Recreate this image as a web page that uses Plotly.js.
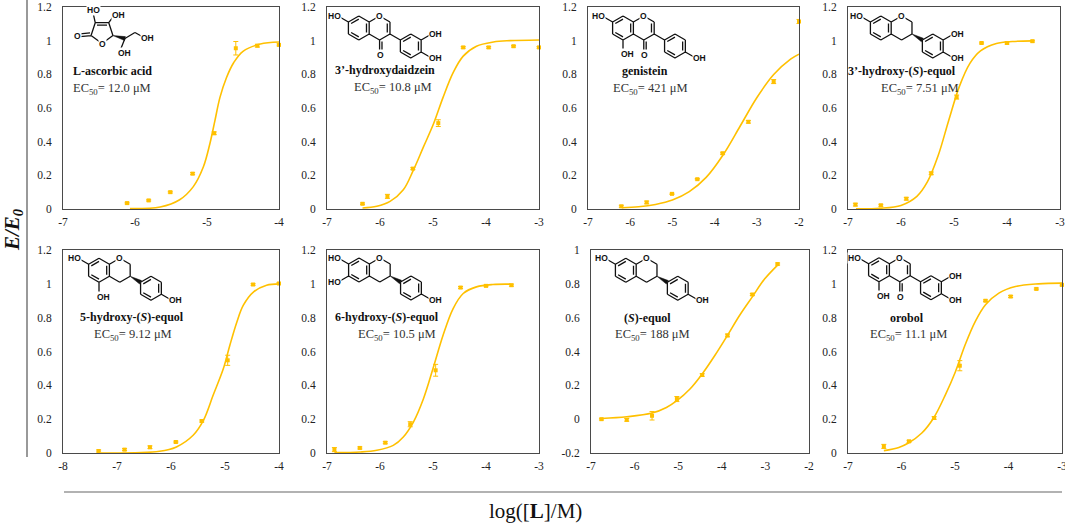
<!DOCTYPE html>
<html>
<head>
<meta charset="utf-8">
<script src="https://cdn.plot.ly/plotly-3.0.1.min.js"></script>
<style>
  html,body{margin:0;padding:0;background:#fff}
  #chart{width:1065px;height:528px}
</style>
</head>
<body>
<div id="chart"></div>
<script>
(function(){
  // ---------- Data (log[L], E/E0) ----------
  // L-ascorbic acid
  const ascX  = [-6.11,-5.81,-5.51,-5.20,-4.90,-4.60,-4.30,-4.00];
  const ascY  = [0.035,0.051,0.10,0.21,0.45,0.955,0.97,0.975];
  const ascE  = [0.005,0.004,0.005,0.006,0.008,0.04,0.008,0.006];
  const ascFx = [-6.07,-5.65,-5.38,-5.19,-5.05,-4.96,-4.89,-4.82,-4.73,-4.63,-4.50,-4.26,-4.00];
  const ascFy = [0.002,0.012,0.055,0.133,0.251,0.388,0.525,0.663,0.78,0.869,0.937,0.98,0.992];

  // 3'-hydroxydaidzein
  const hdzX  = [-6.33,-5.86,-5.38,-4.90,-4.43,-3.95,-3.48,-3.00];
  const hdzY  = [0.031,0.075,0.24,0.51,0.96,0.96,0.967,0.96];
  const hdzE  = [0.005,0.012,0.006,0.02,0.005,0.005,0.005,0.005];
  const hdzFx = [-6.33,-6.06,-5.81,-5.56,-5.37,-5.18,-4.99,-4.81,-4.62,-4.43,-4.18,-3.86,-3.55,-3.00];
  const hdzFy = [0.006,0.016,0.045,0.114,0.231,0.369,0.506,0.663,0.81,0.908,0.967,0.992,1.0,1.004];

  // genistein
  const genX  = [-6.21,-5.61,-5.01,-4.41,-3.81,-3.20,-2.60,-2.00];
  const genY  = [0.016,0.039,0.09,0.177,0.331,0.518,0.757,1.114];
  const genE  = [0.006,0.008,0.004,0.004,0.006,0.008,0.012,0.012];
  const genFx = [-6.2,-5.8,-5.4,-5.0,-4.6,-4.2,-3.8,-3.4,-3.0,-2.6,-2.2,-2.0];
  const genFy = [0.007,0.013,0.027,0.053,0.103,0.188,0.321,0.49,0.661,0.799,0.89,0.92];

  // 3'-hydroxy-(S)-equol
  const h3eX  = [-6.86,-6.38,-5.90,-5.43,-4.95,-4.48,-4.00,-3.52];
  const h3eY  = [0.026,0.022,0.061,0.212,0.665,0.986,0.986,0.997];
  const h3eE  = [0.008,0.006,0.008,0.008,0.012,0.005,0.006,0.005];
  const h3eFx = [-6.85,-6.4,-6.0,-5.7,-5.5,-5.3,-5.1,-4.9,-4.7,-4.5,-4.2,-3.9,-3.52];
  const h3eFy = [0.001,0.004,0.021,0.075,0.162,0.316,0.526,0.727,0.865,0.939,0.983,0.995,0.999];

  // 5-hydroxy-(S)-equol
  const h5eX  = [-7.34,-6.86,-6.39,-5.91,-5.43,-4.95,-4.48,-4.00];
  const h5eY  = [0.012,0.02,0.034,0.065,0.189,0.548,0.996,1.002];
  const h5eE  = [0.006,0.006,0.008,0.005,0.006,0.03,0.005,0.006];
  const h5eFx = [-7.30,-6.21,-5.90,-5.59,-5.40,-5.22,-5.03,-4.91,-4.78,-4.66,-4.47,-4.23,-4.00];
  const h5eFy = [0.0,0.01,0.036,0.105,0.193,0.341,0.499,0.637,0.775,0.874,0.953,0.992,1.0];

  // 6-hydroxy-(S)-equol
  const h6eX  = [-6.86,-6.38,-5.90,-5.43,-4.95,-4.48,-4.00,-3.52];
  const h6eY  = [0.02,0.03,0.061,0.17,0.489,0.978,0.988,0.992];
  const h6eE  = [0.012,0.006,0.006,0.015,0.035,0.006,0.005,0.006];
  const h6eFx = [-6.86,-6.37,-6.06,-5.75,-5.56,-5.37,-5.18,-5.00,-4.81,-4.62,-4.43,-4.18,-3.87,-3.54];
  const h6eFy = [0.002,0.006,0.016,0.045,0.095,0.183,0.321,0.499,0.696,0.854,0.943,0.982,0.996,0.998];

  // (S)-equol
  const eqX  = [-6.76,-6.18,-5.60,-5.03,-4.45,-3.87,-3.30,-2.72];
  const eqY  = [0.0,-0.004,0.02,0.119,0.261,0.495,0.737,0.917];
  const eqE  = [0.005,0.008,0.025,0.015,0.008,0.008,0.006,0.006];
  const eqFx = [-6.76,-6.18,-5.60,-5.27,-5.03,-4.73,-4.45,-4.16,-3.87,-3.59,-3.30,-3.02,-2.72];
  const eqFy = [0.004,0.014,0.036,0.069,0.109,0.178,0.267,0.376,0.495,0.614,0.723,0.828,0.911];

  // orobol
  const orbX  = [-6.33,-5.86,-5.39,-4.91,-4.43,-3.96,-3.48,-3.00];
  const orbY  = [0.039,0.069,0.207,0.516,0.9,0.925,0.97,0.994];
  const orbE  = [0.012,0.006,0.008,0.03,0.005,0.006,0.005,0.006];
  const orbFx = [-6.33,-6.05,-5.87,-5.62,-5.40,-5.18,-4.99,-4.81,-4.62,-4.43,-4.18,-3.87,-3.44,-3.00];
  const orbFy = [0.014,0.033,0.059,0.118,0.207,0.344,0.482,0.64,0.778,0.876,0.945,0.984,1.0,1.004];

  // tick labels
  const xt74 = [-7,-6,-5,-4];
  const xt73 = [-7,-6,-5,-4,-3];
  const xt72 = [-7,-6,-5,-4,-3,-2];
  const xt84 = [-8,-7,-6,-5,-4];
  const ytA  = [0,0.2,0.4,0.6,0.8,1,1.2];
  const ytB  = [-0.2,0,0.2,0.4,0.6,0.8,1];

  // --------- Utils ---------
  const W = 1065, H = 528, R = 12, h = 0.866*R;
  const GOLD = '#FFC000';
  const SERIF = 'Liberation Serif, Times New Roman, serif';
  const px = x => x/W, py = y => 1 - y/H;
  const path = pts => pts.map((p,i)=>(i?'L':'M')+px(p[0]).toFixed(5)+','+py(p[1]).toFixed(5)).join(' ');

  // --------- chemical structures (drawn as shapes) ---------
  function hexV(cx, cy, r){
    return [0,1,2,3,4,5].map(i=>{ const a=(-90+60*i)*Math.PI/180; return [cx+r*Math.cos(a), cy+r*Math.sin(a)]; });
  }
  const ALL = [[0,1],[1,2],[2,3],[3,4],[4,5],[5,0]];
  function ring(m, V, c, edges, inner){
    edges.forEach(([a,b])=>m.lines.push([V[a],V[b]]));
    (inner||[]).forEach(([a,b])=>{
      const k=0.74, s=t=>[c[0]+(t[0]-c[0])*k, c[1]+(t[1]-c[1])*k];
      m.lines.push([s(V[a]), s(V[b])]);
    });
  }
  function lab(m, x, y, t, xa, ya){ m.labels.push({x, y, t, xa, ya}); }
  function sub(m, p, d, t, dir){
    const e=[p[0]+d[0], p[1]+d[1]];
    m.lines.push([p,e]);
    if (dir==='down') lab(m, e[0]-3.5, e[1]-2, t, 'left', 'top');
    else if (dir==='up') lab(m, e[0], e[1]+2, t, 'center', 'bottom');
    else if (t==='HO') lab(m, e[0]+3.5, e[1], t, 'right', 'middle');
    else lab(m, e[0]-3.5, e[1], t, 'left', 'middle');
    return e;
  }
  function wedge(p, q){
    const dx=q[0]-p[0], dy=q[1]-p[1], L=Math.hypot(dx,dy), n=[-dy/L*2, dx/L*2];
    return [p, [q[0]+n[0], q[1]+n[1]], [q[0]-n[0], q[1]-n[1]]];
  }

  // isoflavone / isoflavan skeleton
  function iso(ax, ay, o){
    const m={lines:[], wedges:[], labels:[]}, r=R;
    const A=hexV(ax,ay,r), cc=[ax+2*h, ay], C=hexV(cc[0],cc[1],r);
    ring(m, A, [ax,ay], ALL, [[1,2],[3,4],[5,0]]);
    ring(m, C, cc, [[5,0],[0,1],[1,2],[2,3],[3,4]], o.one ? [[1,2]] : []);
    lab(m, C[0][0], C[0][1], 'O', 'center', 'middle');
    if (o.one){
      const e=[C[3][0], C[3][1]+0.85*r];
      m.lines.push([C[3], e], [[C[3][0]+2.4, C[3][1]+1.5], [e[0]+2.4, e[1]]]);
      lab(m, e[0]+1, e[1]-1, 'O', 'center', 'top');
    }
    const b1=[C[2][0]+h, C[2][1]+r/2];
    if (o.one) m.lines.push([C[2], b1]); else m.wedges.push(wedge(C[2], b1));
    const bc=[b1[0]+h, b1[1]+r/2], B=hexV(bc[0],bc[1],r);
    ring(m, B, bc, ALL, [[5,0],[1,2],[3,4]]);
    if (o.oh7) sub(m, A[5], [-h,-r/2], 'HO');
    if (o.oh6) sub(m, A[4], [-h, r/2], 'HO');
    if (o.oh5) sub(m, A[3], [0, r*0.85], 'OH', 'down');
    if (o.oh3p) sub(m, B[1], [h,-r/2], 'OH');
    sub(m, B[2], [h, r/2], 'OH');
    return m;
  }

  // L-ascorbic acid (lactone ring)
  function ascorbic(cx, cy){
    const m={lines:[], wedges:[], labels:[]}, rr=11.5;
    const V=[90,18,-54,-126,162].map(a=>[cx+rr*Math.cos(a*Math.PI/180), cy+rr*Math.sin(a*Math.PI/180)]);
    ring(m, V, [cx,cy], [[0,1],[1,2],[2,3],[3,4],[4,0]], [[2,3]]);
    lab(m, V[0][0], V[0][1], 'O', 'center', 'middle');
    const c1=V[4], eo=[c1[0]-11, c1[1]+1];
    m.lines.push([c1, eo], [[c1[0]-1, c1[1]-2.6], [eo[0], eo[1]-2.6]]);
    lab(m, eo[0]+2, eo[1]-1, 'O', 'right', 'middle');
    sub(m, V[3], [-2,-9], 'HO', 'up');
    sub(m, V[2], [6,-8], 'OH');
    const c5=[V[1][0]+12, V[1][1]+3];
    m.wedges.push(wedge(V[1], c5));
    sub(m, c5, [-4,10], 'OH', 'down');
    const c6=[c5[0]+10, c5[1]-6];
    m.lines.push([c5, c6]);
    sub(m, c6, [9,5], 'OH');
    return m;
  }

  // ---------- panels ----------
  const T = 7; // top edge of the upper row
  const panels = [
    {nm:'<b>L-ascorbic acid</b>', ec:'12.0', x:ascX, y:ascY, e:ascE, fx:ascFx, fy:ascFy,
     xr:[-7,-4], xt:xt74, yr:[0,1.2], yt:ytA, box:[63,279,T,209], nmp:[112,71], ecp:[112,89], mol:ascorbic(102,32)},
    {nm:'<b>3’-hydroxydaidzein</b>', ec:'10.8', x:hdzX, y:hdzY, e:hdzE, fx:hdzFx, fy:hdzFy,
     xr:[-7,-3], xt:xt73, yr:[0,1.2], yt:ytA, box:[327,539,T,209], nmp:[385,70], ecp:[393,88], mol:iso(358.8,28,{one:true,oh7:true,oh3p:true})},
    {nm:'<b>genistein</b>', ec:'421', x:genX, y:genY, e:genE, fx:genFx, fy:genFy,
     xr:[-7,-2], xt:xt72, yr:[0,1.2], yt:ytA, box:[588,799,T,209], nmp:[645,71], ecp:[650,89], mol:iso(623,28,{one:true,oh7:true,oh5:true})},
    {nm:'<b>3’-hydroxy-(<i>S</i>)-equol</b>', ec:'7.51', x:h3eX, y:h3eY, e:h3eE, fx:h3eFx, fy:h3eFy,
     xr:[-7,-3], xt:xt73, yr:[0,1.2], yt:ytA, box:[848,1060,T,209], nmp:[902,71], ecp:[920,89], mol:iso(880.8,28,{oh7:true,oh3p:true})},
    {nm:'<b>5-hydroxy-(<i>S</i>)-equol</b>', ec:'9.12', x:h5eX, y:h5eY, e:h5eE, fx:h5eFx, fy:h5eFy,
     xr:[-8,-4], xt:xt84, yr:[0,1.2], yt:ytA, box:[63,279,250,453], nmp:[132,317], ecp:[133,335], mol:iso(99,270.3,{oh7:true,oh5:true})},
    {nm:'<b>6-hydroxy-(<i>S</i>)-equol</b>', ec:'10.5', x:h6eX, y:h6eY, e:h6eE, fx:h6eFx, fy:h6eFy,
     xr:[-7,-3], xt:xt73, yr:[0,1.2], yt:ytA, box:[327,539,250,453], nmp:[387,317], ecp:[397,335], mol:iso(359,270,{oh7:true,oh6:true})},
    {nm:'<b>(<i>S</i>)-equol</b>', ec:'188', x:eqX, y:eqY, e:eqE, fx:eqFx, fy:eqFy,
     xr:[-7,-2], xt:xt72, yr:[-0.2,1], yt:ytB, box:[591,809,250,453], nmp:[647,318], ecp:[652,335], mol:iso(625.8,270.3,{oh7:true})},
    {nm:'<b>orobol</b>', ec:'11.1', x:orbX, y:orbY, e:orbE, fx:orbFx, fy:orbFy,
     xr:[-7,-3], xt:xt73, yr:[0,1.2], yt:ytA, box:[848,1062,250,453], nmp:[907,318], ecp:[908,335], mol:iso(879,269.7,{one:true,oh7:true,oh5:true,oh3p:true})}
  ];

  const data = [], shapes = [], annotations = [];
  const layout = {
    width:W, height:H, margin:{l:0,r:0,t:0,b:0},
    paper_bgcolor:'#fff', plot_bgcolor:'#fff', showlegend:false,
    font:{family:SERIF, color:'#222'}
  };
  const note = (x, y, text, font, extra) => Object.assign({xref:'paper', yref:'paper', x:px(x), y:py(y),
    xanchor:'center', yanchor:'middle', text, showarrow:false, font}, extra||{});

  panels.forEach((p, i)=>{
    const n = i ? String(i+1) : '';
    const xa = 'x'+n, ya = 'y'+n;
    const axBase = {
      showline:true, mirror:true, linecolor:'#4a4a4a', linewidth:1,
      showgrid:false, zeroline:false, ticks:'', fixedrange:true, ticklabeloverflow:'allow',
      tickfont:{family:SERIF, size:11.5, color:'#222'}, tickmode:'array'
    };
    layout['xaxis'+n] = Object.assign({}, axBase, {
      domain:[px(p.box[0]), px(p.box[1])], range:p.xr, anchor:ya,
      tickvals:p.xt, ticktext:p.xt.map(String), ticklabelstandoff:2
    });
    layout['yaxis'+n] = Object.assign({}, axBase, {
      domain:[py(p.box[3]), py(p.box[2])], range:p.yr, anchor:xa,
      tickvals:p.yt, ticktext:p.yt.map(String), ticklabelstandoff:8
    });

    // fitted curve
    data.push({x:p.fx, y:p.fy, xaxis:xa, yaxis:ya, type:'scatter', mode:'lines',
      line:{color:GOLD, width:1.6, shape:'spline'}, hoverinfo:'skip', cliponaxis:false});
    // measured points
    data.push({x:p.x, y:p.y, xaxis:xa, yaxis:ya, type:'scatter', mode:'markers',
      marker:{color:GOLD, size:4, symbol:'square'}, cliponaxis:false,
      error_y:{type:'data', array:p.e, visible:true, color:GOLD, thickness:1, width:2.5}});

    annotations.push(note(p.nmp[0], p.nmp[1], p.nm, {family:SERIF, size:12, color:'#111'}));
    annotations.push(note(p.ecp[0], p.ecp[1], 'EC<sub>50</sub>= '+p.ec+' μM', {family:SERIF, size:12.5, color:'#333'}));

    // structure
    const m = p.mol;
    const d = m.lines.map(([a,b])=>path([a,b])).join(' ');
    shapes.push({type:'path', xref:'paper', yref:'paper', path:d, line:{color:'#111', width:1.3}});
    m.wedges.forEach(w=>shapes.push({type:'path', xref:'paper', yref:'paper', path:path(w)+' Z',
      line:{color:'#111', width:0.5}, fillcolor:'#111'}));
    m.labels.forEach(l=>annotations.push({xref:'paper', yref:'paper', x:px(l.x), y:py(l.y),
      xanchor:l.xa, yanchor:l.ya, text:'<b>'+l.t+'</b>', showarrow:false, bgcolor:'#fff', borderpad:0,
      font:{family:'Liberation Sans, Arial, sans-serif', size:8.5, color:'#111'}}));
  });

  // outer brackets and shared titles
  shapes.push({type:'line', xref:'paper', yref:'paper', x0:px(27), x1:px(27), y0:py(0), y1:py(457),
    line:{color:'#999', width:2}});
  shapes.push({type:'line', xref:'paper', yref:'paper', x0:px(64), x1:px(1062), y0:py(492), y1:py(492),
    line:{color:'#999', width:1.5}});
  annotations.push(note(13, 230, '<b><i>E/E<sub>0</sub></i></b>', {family:SERIF, size:21, color:'#111'}, {textangle:-90}));
  annotations.push(note(535, 511, 'log([<b>L</b>]/M)', {family:SERIF, size:21, color:'#111'}));

  layout.shapes = shapes;
  layout.annotations = annotations;

  Plotly.newPlot('chart', data, layout, {displayModeBar:false, staticPlot:true});
})();
</script>
</body>
</html>
